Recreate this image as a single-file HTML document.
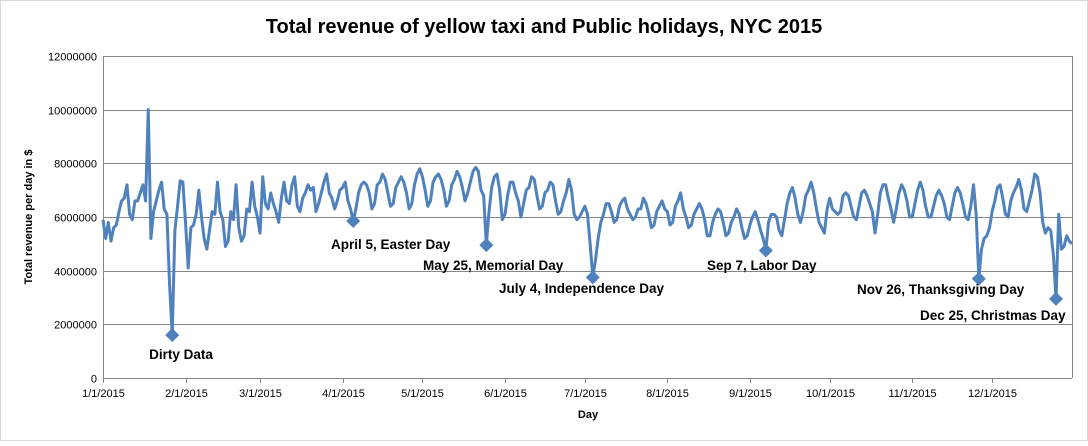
<!DOCTYPE html>
<html><head><meta charset="utf-8"><style>
body{margin:0;background:#fff;}
svg text{font-family:"Liberation Sans",Calibri,sans-serif;}
</style></head><body>
<svg id="chart" width="1088" height="441" xmlns="http://www.w3.org/2000/svg">
<rect x="0.5" y="0.5" width="1087" height="440" fill="#fff" stroke="#d9d9d9"/>
<text x="544" y="33" text-anchor="middle" font-size="20" font-weight="bold" fill="#000">Total revenue of yellow taxi and Public holidays, NYC 2015</text>
<g id="grid"></g><g id="axes"></g><g id="series"></g><g id="anno"></g>
<text x="588" y="418" text-anchor="middle" font-size="11" font-weight="bold">Day</text>
<text transform="translate(32,217) rotate(-90)" text-anchor="middle" font-size="11" font-weight="bold">Total revenue per day in $</text>
</svg>
<script>
const yTicks=[0,2000000,4000000,6000000,8000000,10000000,12000000];
const xTickLabels=["1/1/2015","2/1/2015","3/1/2015","4/1/2015","5/1/2015","6/1/2015","7/1/2015","8/1/2015","9/1/2015","10/1/2015","11/1/2015","12/1/2015"];
const xTickDays=[0,31,59,90,120,151,181,212,243,273,304,334];
const revJan=[5.9,5.2,5.8,5.1,5.6,5.7,6.2,6.6,6.7,7.2,6.1,5.9,6.6,6.6,6.9,7.2,6.6,10.0,5.2,6.2,6.6,7.0,7.3,6.3,6.1,3.5,1.6,5.5,6.4,7.35,7.3];
const revFeb=[5.8,4.1,5.6,5.7,6.1,7.0,6.0,5.2,4.8,5.5,6.2,6.1,7.3,6.2,5.9,4.9,5.1,6.2,5.9,7.2,5.6,5.1,5.3,6.3,6.2,7.3,6.4,6.0];
const revMar=[5.4,7.5,6.5,6.3,6.9,6.5,6.2,5.8,6.7,7.3,6.6,6.5,7.2,7.5,6.4,6.2,6.7,6.9,7.2,7.0,7.1,6.2,6.5,6.9,7.3,7.6,6.9,6.7,6.3,6.6,7.0];
const revApr=[7.1,7.3,6.6,6.3,5.85,6.3,6.9,7.2,7.3,7.2,6.9,6.3,6.5,7.2,7.3,7.6,7.4,6.9,6.4,6.5,7.1,7.3,7.5,7.3,6.9,6.3,6.5,7.2,7.6,7.8];
const revMay=[7.5,7.0,6.4,6.6,7.3,7.5,7.6,7.4,7.0,6.4,6.6,7.2,7.4,7.7,7.5,7.1,6.6,6.9,7.3,7.7,7.85,7.7,7.0,6.8,4.95,6.2,7.1,7.5,7.6,7.0,5.9];
const revJun=[6.1,6.8,7.3,7.3,6.9,6.6,6.0,6.5,7.0,7.1,7.5,7.4,6.8,6.3,6.4,6.9,7.0,7.3,7.2,6.6,6.1,6.2,6.6,6.9,7.4,7.0,6.1,5.9,6.0,6.2];
const revJul=[6.4,6.1,5.0,3.75,4.4,5.2,5.8,6.1,6.5,6.5,6.2,5.8,5.9,6.4,6.6,6.7,6.3,6.1,5.9,6.0,6.3,6.3,6.7,6.5,6.1,5.6,5.7,6.2,6.4,6.6,6.3];
const revAug=[6.2,5.7,5.8,6.4,6.6,6.9,6.3,6.0,5.6,5.7,6.1,6.3,6.5,6.3,5.9,5.3,5.3,5.8,6.1,6.3,6.2,5.8,5.3,5.4,5.8,6.0,6.3,6.1,5.6,5.2,5.3];
const revSep=[5.7,6.0,6.2,5.9,5.5,5.2,4.75,5.8,6.1,6.1,6.0,5.5,5.3,5.9,6.5,6.9,7.1,6.7,6.1,5.8,6.2,6.8,7.0,7.3,6.9,6.3,5.8,5.6,5.4,6.3];
const revOct=[6.7,6.3,6.2,6.1,6.2,6.8,6.9,6.8,6.4,6.0,5.9,6.4,6.9,7.0,6.8,6.5,6.2,5.4,6.1,6.9,7.2,7.2,6.7,6.3,5.8,6.3,6.9,7.2,7.0,6.6,6.0];
const revNov=[6.0,6.5,7.0,7.3,7.0,6.4,6.0,6.0,6.4,6.8,7.0,6.8,6.5,6.0,5.9,6.4,6.9,7.1,6.9,6.5,6.0,5.9,6.4,7.2,6.1,3.7,4.8,5.2,5.3,5.6];
const revDec=[6.2,6.6,7.1,7.2,6.7,6.1,6.0,6.6,6.9,7.1,7.4,7.0,6.3,6.2,6.6,7.0,7.6,7.5,6.9,5.8,5.4,5.6,5.5,4.6,2.95,6.1,4.8,4.9,5.3,5.1,5.0];
const holidayDays=[26,94,144,184,249,329,358];
const holidayLabels=["Dirty Data","April 5, Easter Day","May 25, Memorial Day","July 4, Independence Day","Sep 7, Labor Day","Nov 26, Thanksgiving Day","Dec 25, Christmas Day"];
const labelPos=[[181,359,"middle"],[331,249,"start"],[423,270,"start"],[499,293,"start"],[707,270,"start"],[857,294,"start"],[920,320,"start"]];

const NS="http://www.w3.org/2000/svg";
const X0=103,X1=1072,Y0=378,Y1=56;
const revenue=[].concat(revJan,revFeb,revMar,revApr,revMay,revJun,revJul,revAug,revSep,revOct,revNov,revDec).map(v=>v*1e6);
const N=revenue.length;
const xs=d=>X0+d*(X1-X0)/(N-1);
const ys=v=>Y0-v*(Y0-Y1)/12000000;
function mk(tag,attrs,parent){const e=document.createElementNS(NS,tag);for(const k in attrs)e.setAttribute(k,attrs[k]);parent.appendChild(e);return e;}
const grid=document.getElementById('grid'),axes=document.getElementById('axes'),series=document.getElementById('series'),anno=document.getElementById('anno');
yTicks.forEach(t=>{
  const y=Math.round(ys(t))+0.5;
  const l=mk('line',{x1:X0,x2:X1,y1:y,y2:y,stroke:'#868686','stroke-width':1},grid);
  
  
  const tx=mk('text',{x:X0-6,y:y+4,'text-anchor':'end','font-size':11,fill:'#000'},axes);
  tx.textContent=String(t);
  
  
});
mk('line',{x1:X0+0.5,x2:X0+0.5,y1:Y1,y2:Y0+5,stroke:'#868686'},axes);
mk('line',{x1:X1+0.5,x2:X1+0.5,y1:Y1,y2:Y0,stroke:'#868686'},axes);
xTickDays.forEach((d,i)=>{
  const x=Math.round(xs(d))+0.5;
  mk('line',{x1:x,x2:x,y1:Y0,y2:Y0+5,stroke:'#868686'},axes);
  const tx=mk('text',{x:x,y:Y0+19,'text-anchor':'middle','font-size':11,fill:'#000'},axes);
  tx.textContent=xTickLabels[i];
  
  
});
const pts=revenue.map((v,i)=>xs(i).toFixed(2)+','+ys(v).toFixed(2)).join(' ');
const line=mk('polyline',{points:pts,fill:'none',stroke:'#4f81bd','stroke-width':3,'stroke-linejoin':'round'},series);


holidayDays.forEach((d,i)=>{
  const x=xs(d),y=ys(revenue[d]);
  const m=mk('polygon',{points:`${x},${y-7} ${x+7},${y} ${x},${y+7} ${x-7},${y}`,fill:'#4f81bd'},anno);
  
  
  const p=labelPos[i];
  const t=mk('text',{x:p[0],y:p[1],'text-anchor':p[2],'font-size':13.5,'font-weight':'bold',fill:'#000'},anno);
  t.textContent=holidayLabels[i];
  
  
});
</script>
</body></html>
